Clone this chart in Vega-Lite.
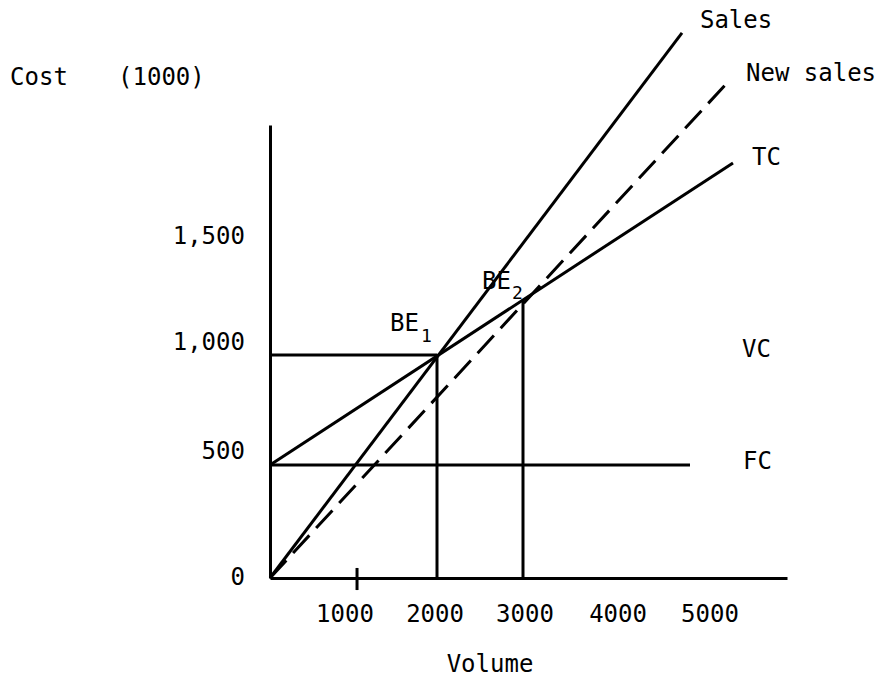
{
  "$schema": "https://vega.github.io/schema/vega-lite/v6.json",
  "width": 517,
  "height": 453,
  "autosize": {"type": "none"},
  "padding": {"left": 270, "top": 125, "right": 97, "bottom": 99},
  "background": "white",
  "config": {
    "view": {"stroke": null},
    "text": {"font": "DejaVu Sans Mono", "fontSize": 24, "color": "black"},
    "axis": {"domainColor": "black", "domainWidth": 3, "ticks": false, "labels": false, "grid": false, "title": null}
  },
  "datasets": {
    "solid": [
      {"seg": "Sales", "x": 0, "y": 0, "x2": 4791, "y2": 2444},
      {"seg": "TC", "x": 0, "y": 507, "x2": 5384, "y2": 1861},
      {"seg": "FC", "x": 0, "y": 507, "x2": 4884, "y2": 507},
      {"seg": "BE1 level", "x": 0, "y": 1000, "x2": 1942, "y2": 1000},
      {"seg": "BE1 drop", "x": 1942, "y": 0, "x2": 1942, "y2": 1000},
      {"seg": "BE2 drop", "x": 2942, "y": 0, "x2": 2942, "y2": 1247},
      {"seg": "tick", "x": 1012, "y": 45, "x2": 1012, "y2": -54}
    ],
    "dashed": [
      {"seg": "New sales", "x": 0, "y": 0, "x2": 5326, "y2": 2224}
    ],
    "ylabels": [
      {"label": "0", "x": -291, "y": 0},
      {"label": "500", "x": -291, "y": 565},
      {"label": "1,000", "x": -291, "y": 1054},
      {"label": "1,500", "x": -291, "y": 1529}
    ],
    "xlabels": [
      {"label": "1000", "x": 872, "y": -166},
      {"label": "2000", "x": 1919, "y": -166},
      {"label": "3000", "x": 2965, "y": -166},
      {"label": "4000", "x": 4047, "y": -166},
      {"label": "5000", "x": 5116, "y": -166},
      {"label": "Volume", "x": 2558, "y": -390}
    ],
    "names": [
      {"label": "Sales", "x": 5000, "y": 2498},
      {"label": "New sales", "x": 5535, "y": 2260},
      {"label": "TC", "x": 5605, "y": 1883},
      {"label": "VC", "x": 5488, "y": 1022},
      {"label": "FC", "x": 5500, "y": 520},
      {"label": "Cost", "x": -3023, "y": 2242},
      {"label": "(1000)", "x": -1767, "y": 2242},
      {"label": "BE", "x": 1395, "y": 1139},
      {"label": "BE", "x": 2465, "y": 1327}
    ],
    "subs": [
      {"label": "1", "x": 1756, "y": 1080},
      {"label": "2", "x": 2814, "y": 1272}
    ]
  },
  "encoding": {
    "x": {"field": "x", "type": "quantitative", "scale": {"domain": [0, 6012], "nice": false, "zero": false}},
    "y": {"field": "y", "type": "quantitative", "scale": {"domain": [0, 2031], "nice": false, "zero": false}}
  },
  "layer": [
    {
      "data": {"name": "solid"},
      "mark": {"type": "rule", "color": "black", "strokeWidth": 3},
      "encoding": {"x2": {"field": "x2"}, "y2": {"field": "y2"}}
    },
    {
      "data": {"name": "dashed"},
      "mark": {"type": "rule", "color": "black", "strokeWidth": 3, "strokeDash": [24, 10]},
      "encoding": {"x2": {"field": "x2"}, "y2": {"field": "y2"}}
    },
    {
      "data": {"name": "ylabels"},
      "mark": {"type": "text", "align": "right", "baseline": "middle"},
      "encoding": {"text": {"field": "label"}}
    },
    {
      "data": {"name": "xlabels"},
      "mark": {"type": "text", "align": "center", "baseline": "middle"},
      "encoding": {"text": {"field": "label"}}
    },
    {
      "data": {"name": "names"},
      "mark": {"type": "text", "align": "left", "baseline": "middle"},
      "encoding": {"text": {"field": "label"}}
    },
    {
      "data": {"name": "subs"},
      "mark": {"type": "text", "align": "left", "baseline": "middle", "fontSize": 18},
      "encoding": {"text": {"field": "label"}}
    }
  ]
}
